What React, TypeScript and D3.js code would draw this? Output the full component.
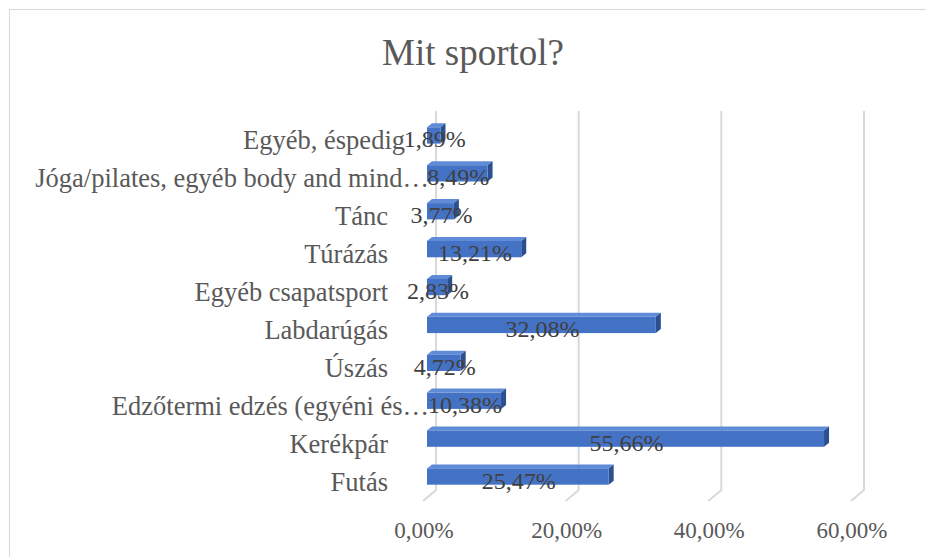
import * as d3 from "d3";
import { useEffect, useRef } from "react";

// chart data (bottom to top as drawn)
const categories = [
  "Futás",
  "Kerékpár",
  "Edzőtermi edzés (egyéni és…",
  "Úszás",
  "Labdarúgás",
  "Egyéb csapatsport",
  "Túrázás",
  "Tánc",
  "Jóga/pilates, egyéb body and mind…",
  "Egyéb, éspedig",
];
const values = [25.47, 55.66, 10.38, 4.72, 32.08, 2.83, 13.21, 3.77, 8.49, 1.89];
const ticks = [0, 20, 40, 60];
const title = "Mit sportol?";

// labels that Excel pushed past the normal right edge
const labelEndX: Record<string, number> = {
  "Egyéb, éspedig": 405,
  "Jóga/pilates, egyéb body and mind…": 429,
  "Edzőtermi edzés (egyéni és…": 429,
};

const W = 926;
const H = 557;
const FONT = "'Liberation Serif', 'Times New Roman', serif";

const fmt = (v: number) => v.toFixed(2).replace(".", ",") + "%";

export default function App() {
  const ref = useRef<SVGSVGElement>(null);

  useEffect(() => {
    const svg = d3.select(ref.current);
    svg.selectAll("*").remove();

    // chart border (runs off the right/bottom edge)
    svg.append("rect")
      .attr("x", 9.5).attr("y", 9.5)
      .attr("width", W + 20).attr("height", H + 20)
      .attr("fill", "white")
      .attr("stroke", "#d9d9d9");

    svg.append("text")
      .attr("x", 473).attr("y", 65)
      .attr("text-anchor", "middle")
      .attr("font-family", FONT)
      .attr("font-size", 37)
      .attr("fill", "#595959")
      .text(title);

    // back wall scale + front (bar) scale
    const xBack = d3.scaleLinear().domain([0, 60]).range([436, 864]);
    const xBar = d3.scaleLinear().domain([0, 60]).range([427, 855]);
    const depthX = -13, depthY = 11; // floor depth
    const wallTop = 111, wallBottom = 490;

    const y = d3.scaleBand()
      .domain([...categories].reverse())
      .range([116.5, 495.5])
      .padding(0);

    // gridlines with 3D floor tails
    const grid = svg.append("g").attr("stroke", "#d9d9d9").attr("stroke-width", 2).attr("fill", "none");
    ticks.forEach((t) => {
      const x = xBack(t);
      grid.append("path")
        .attr("d", `M${x},${wallTop} L${x},${wallBottom} L${x + depthX},${wallBottom + depthY}`);
    });

    // tick labels
    svg.append("g")
      .selectAll("text")
      .data(ticks)
      .join("text")
      .attr("x", (d) => xBack(d) + depthX + 1)
      .attr("y", 538)
      .attr("text-anchor", "middle")
      .attr("font-family", FONT)
      .attr("font-size", 23)
      .attr("fill", "#595959")
      .text((d) => fmt(d));

    // 3D bars
    const bw = y.bandwidth();
    const bh = bw * 0.43;
    const dx = 5, dy = 4;
    const bars = svg.append("g");
    categories.forEach((c, i) => {
      const cy = (y(c) as number) + bw / 2;
      const x0 = xBar(0), x1 = xBar(values[i]);
      const top = cy - bh / 2;
      const g = bars.append("g");
      g.append("polygon")
        .attr("points", `${x0},${top} ${x0 + dx},${top - dy} ${x1 + dx},${top - dy} ${x1},${top}`)
        .attr("fill", "#5f8bd8");
      g.append("polygon")
        .attr("points", `${x1},${top} ${x1 + dx},${top - dy} ${x1 + dx},${top + bh - dy} ${x1},${top + bh}`)
        .attr("fill", "#2c4f8f");
      g.append("rect")
        .attr("x", x0).attr("y", top)
        .attr("width", Math.max(0, x1 - x0)).attr("height", bh)
        .attr("fill", "#4472c4");
    });

    // category labels
    svg.append("g")
      .selectAll("text")
      .data(categories)
      .join("text")
      .attr("x", (d) => labelEndX[d] ?? 388)
      .attr("y", (d) => (y(d) as number) + bw / 2 + 14)
      .attr("text-anchor", "end")
      .attr("font-family", FONT)
      .attr("font-size", 26.5)
      .attr("fill", "#595959")
      .text((d) => d);

    // data labels
    svg.append("g")
      .selectAll("text")
      .data(values)
      .join("text")
      .attr("x", (d) => (xBar(0) + xBar(d)) / 2 + 1)
      .attr("y", (d, i) => (y(categories[i]) as number) + bw / 2 + 12)
      .attr("text-anchor", "middle")
      .attr("font-family", FONT)
      .attr("font-size", 24)
      .attr("fill", "#404040")
      .text((d) => fmt(d));
  }, []);

  return (
    <div style={{ position: "absolute", left: 0, top: 0, width: W, height: H, background: "white" }}>
      <svg ref={ref} width={W} height={H} />
    </div>
  );
}
